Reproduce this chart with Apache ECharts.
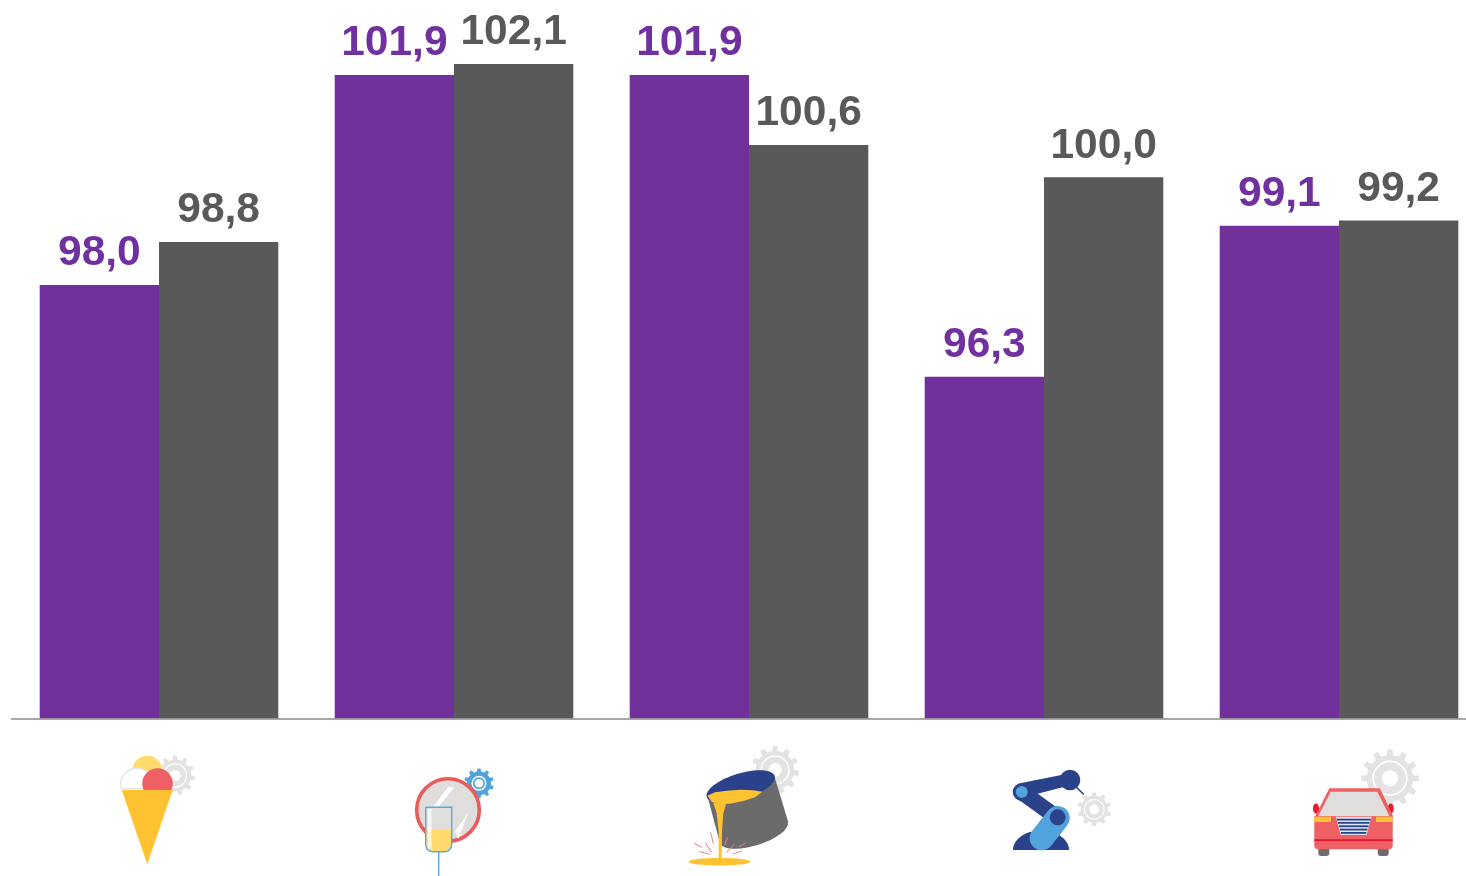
<!DOCTYPE html>
<html>
<head>
<meta charset="utf-8">
<title>Chart</title>
<script src="https://cdn.jsdelivr.net/npm/echarts@6/dist/echarts.min.js"></script>
<style>
  html, body { margin: 0; padding: 0; background: #fff; overflow: hidden; }
  #chart { width: 1466px; height: 876px; }
</style>
</head>
<body>
<div id="chart"></div>
<script>
const categories = ['Ice cream', 'Glass', 'Foundry', 'Robotics', 'Cars']
const purpleValues = [98.0, 101.9, 101.9, 96.3, 99.1]
const greyValues = [98.8, 102.1, 100.6, 100.0, 99.2]

const PURPLE = '#71309b'
const GREY = '#595959'
const PURPLE_TEXT = '#7030a0'
const GEAR = '#e3e3e3'
const RED = '#ee6063'
const YELLOW = '#ffc230'
const PALE = '#ffdb6e'
const NAVY = '#2a4289'
const BLUE = '#52a2dc'
const SILVER = '#dfdedc'

// icon helpers, the icons were measured on 3x crops so zp() takes crop coords
function zp(pts, ox, oy) {
  return pts.map((p) => [ox + p[0] / 3, oy + p[1] / 3])
}
function poly(points, fill, stroke, lineWidth) {
  return { type: 'polygon', shape: { points }, style: { fill, stroke, lineWidth } }
}
function circle(cx, cy, r, fill, stroke, lineWidth) {
  return { type: 'circle', shape: { cx, cy, r }, style: { fill, stroke, lineWidth } }
}
function ellipsePts(cx, cy, rx, ry, deg) {
  const a = (deg * Math.PI) / 180
  const pts = []
  for (let i = 0; i < 72; i++) {
    const t = (i / 72) * Math.PI * 2
    const x = rx * Math.cos(t)
    const y = ry * Math.sin(t)
    pts.push([cx + x * Math.cos(a) - y * Math.sin(a), cy + x * Math.sin(a) + y * Math.cos(a)])
  }
  return pts
}
function ellipse(cx, cy, rx, ry, deg, fill) {
  return poly(ellipsePts(cx, cy, rx, ry, deg), fill)
}
// circle or ellipse cut flat at cutY
function dome(cx, cy, rx, ry, cutY, fill, stroke) {
  const pts = ellipsePts(cx, cy, rx, ry, 0).filter((p) => p[1] <= cutY)
  pts.sort((a, b) => Math.atan2(a[1] - cutY, a[0] - cx) - Math.atan2(b[1] - cutY, b[0] - cx))
  return poly(pts, fill, stroke, stroke ? 1.5 : 0)
}
function line(x1, y1, x2, y2, stroke, lineWidth) {
  return { type: 'line', shape: { x1, y1, x2, y2 }, style: { stroke, lineWidth, lineCap: 'round' } }
}
function rect(x, y, width, height, fill, r) {
  return { type: 'rect', shape: { x, y, width, height, r: r || 0 }, style: { fill } }
}
function gear(cx, cy, r, teeth, fill) {
  const pts = []
  const step = (Math.PI * 2) / teeth
  const inner = r * 0.8
  for (let i = 0; i < teeth; i++) {
    const a = i * step - Math.PI / 2
    ;[[-0.5, inner], [-0.27, inner], [-0.17, r], [0.17, r], [0.27, inner]].forEach(([o, rad]) => {
      pts.push([cx + rad * Math.cos(a + o * step), cy + rad * Math.sin(a + o * step)])
    })
  }
  return [
    poly(pts, fill),
    circle(cx, cy, r * 0.58, 'none', '#fff', Math.max(1, r * 0.06)),
    circle(cx, cy, r * 0.28, '#fff'),
  ]
}

function iceCream() {
  return [
    ...gear(175, 775.5, 20, 11, GEAR),
    circle(147.3, 770.7, 15, PALE),
    dome(137, 784.5, 16.3, 16.3, 790, '#fff', '#e5e5e5'),
    dome(157.5, 783.5, 15.2, 15.2, 790, RED),
    poly([[121.7, 790], [172.7, 790], [147.3, 864.3]], YELLOW),
  ]
}

function mirrorGlass() {
  const o = [100, 735]
  return [
    gear(479, 783.3, 15, 10, BLUE)[0],
    circle(479, 783.3, 7.5, '#fff'),
    circle(479, 783.3, 6, BLUE),
    circle(479, 783.3, 4.3, '#fff'),
    circle(448, 810, 31.3, SILVER, '#ea5c5c', 3.6),
    poly(zp([[1000, 215], [1045, 155], [1062, 158], [1015, 215]], ...o), '#fff'),
    poly(zp([[1065, 290], [1105, 232], [1075, 312]], ...o), '#fff'),
    rect(426, 829.3, 25.4, 22.4, PALE, [0, 0, 7, 7]),
    rect(427.5, 809, 4, 40, 'rgba(255,255,255,0.75)'),
    { type: 'rect', shape: { x: 425.7, y: 807.3, width: 26, height: 44.4, r: [0, 0, 7, 7] }, style: { fill: 'none', stroke: '#5aa9e0', lineWidth: 1.4 } },
    line(438.7, 851.7, 438.7, 876, '#5aa9e0', 1.4),
  ]
}

function foundry() {
  const o = [670, 735]
  const sparks = [
    [122, 293, 130, 325], [107, 325, 125, 352], [73, 325, 95, 337], [90, 350, 118, 358],
    [172, 308, 165, 330], [192, 328, 170, 352], [225, 325, 208, 335], [215, 348, 190, 357],
  ]
  return [
    ...gear(775, 770, 24, 11, GEAR),
    poly(zp([[112, 182], [312, 120], [355, 262], [150, 325]], ...o), '#6b6b6b'),
    ellipse(753.7, 832.5, 35.5, 13, -17, '#6b6b6b'),
    ellipse(740.7, 786.5, 35.5, 13, -17, NAVY),
    poly(zp([[112, 182], [135, 172], [170, 167], [210, 164], [250, 166], [277, 170], [255, 187], [220, 198], [180, 206], [145, 208], [125, 200]], ...o), YELLOW),
    poly(zp([[130, 204], [168, 208], [160, 235], [156, 290], [155, 372], [146, 372], [146, 290], [140, 235]], ...o), YELLOW),
    ellipse(719.5, 861.7, 31, 3.8, 0, YELLOW),
    ...sparks.map((s) => line(o[0] + s[0] / 3, o[1] + s[1] / 3, o[0] + s[2] / 3, o[1] + s[3] / 3, '#ee7f83', 1)),
  ]
}

function robot() {
  const o = [670, 735]
  return [
    ...gear(1094.3, 809.3, 17, 10, GEAR),
    dome(1041, 850, 28, 19.5, 850, NAVY),
    line(1083.3, 794, 1072, 783, NAVY, 1.6),
    poly(zp([[1050, 145], [1185, 118], [1195, 152], [1068, 185]], ...o), NAVY),
    circle(1070, 780, 10.3, NAVY),
    line(1021.7, 792, 1057.7, 818, NAVY, 16),
    circle(1021.7, 792, 7.5, BLUE, NAVY, 3),
    line(1057.7, 818, 1041.7, 838.3, BLUE, 24),
    circle(1057.7, 817.3, 8, NAVY),
  ]
}

function car() {
  const o = [1290, 735]
  const stripes = [254, 264, 274, 284, 294]
  return [
    ...gear(1390, 778.3, 29, 12, GEAR),
    rect(1318.3, 848, 11, 8, '#6b6b6b', [0, 0, 3, 3]),
    rect(1377.7, 848, 11, 8, '#6b6b6b', [0, 0, 3, 3]),
    ellipse(1316, 808.5, 3, 5, 0, '#e8192c'),
    ellipse(1390.7, 808.5, 3, 5, 0, '#e8192c'),
    poly(zp([[118, 160], [270, 160], [310, 245], [75, 245]], ...o), RED),
    rect(1314.3, 816.3, 78.4, 33, RED, [0, 0, 4, 4]),
    poly(zp([[122, 170], [262, 170], [298, 243], [85, 243]], ...o), SILVER),
    rect(1314.3, 816.7, 16.7, 5.3, YELLOW),
    rect(1376, 816.7, 16.7, 5.3, YELLOW),
    poly(zp([[137, 245], [245, 245], [230, 300], [152, 300]], ...o), '#dfe3ee'),
    ...stripes.map((y, i) => {
      const inset = i * 3.2
      return rect(1290 + (140 + inset) / 3, 735 + y / 3 - 1, (102 - inset * 2) / 3, 1.8, NAVY)
    }),
    rect(1314.3, 839.3, 78.4, 1.8, '#e3122d'),
  ]
}

const chart = echarts.init(document.getElementById('chart'), null, { renderer: 'canvas' })

function valueLabel(color) {
  return {
    show: true,
    position: 'top',
    distance: 10,
    color,
    fontFamily: '"Liberation Sans", Arial, sans-serif',
    fontWeight: 'bold',
    fontSize: 42.5,
    formatter: (p) => p.value.toFixed(1).replace('.', ','),
  }
}

chart.setOption({
  animation: false,
  backgroundColor: '#fff',
  grid: { left: 11.5, width: 1475, top: 15.6, bottom: 157.5, containLabel: false, outerBoundsMode: 'none' },
  xAxis: {
    type: 'category',
    data: categories,
    axisTick: { show: false },
    axisLabel: { show: false },
    axisLine: { show: true, lineStyle: { color: '#8c8c8c', width: 1.5 } },
    z: 5,
  },
  yAxis: {
    type: 'value',
    min: 89.96,
    max: 103,
    show: false,
    splitLine: { show: false },
  },
  series: [
    {
      type: 'bar',
      data: purpleValues,
      barWidth: 119.3,
      barGap: 0,
      itemStyle: { color: PURPLE },
      label: valueLabel(PURPLE_TEXT),
    },
    {
      type: 'bar',
      data: greyValues,
      barWidth: 119.3,
      barGap: 0,
      itemStyle: { color: GREY },
      label: valueLabel(GREY),
    },
  ],
  graphic: {
    elements: [
      { type: 'group', children: iceCream() },
      { type: 'group', children: mirrorGlass() },
      { type: 'group', children: foundry() },
      { type: 'group', children: robot() },
      { type: 'group', children: car() },
    ],
  },
})

window.addEventListener('resize', () => chart.resize())
</script>
</body>
</html>
